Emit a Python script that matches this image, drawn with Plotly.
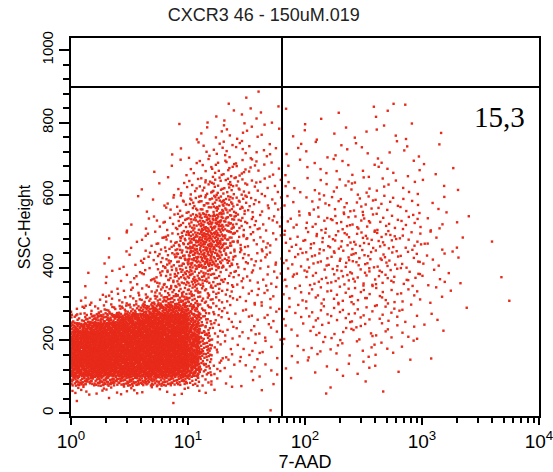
import plotly.graph_objects as go

# ---- data ----
title_text = "CXCR3 46 - 150uM.019"
x_title = "7-AAD"
y_title = "SSC-Height"
quadrant_label = "15,3"

# gate positions (7-AAD, SSC-Height)
gate_x = 63.6
gate_y = 898

# Event-count grids.  Columns: log10(7-AAD) bins, rows: SSC-Height bins
# (bottom row first).  Each value = number of events seen in that cell.

# block A: main live-cell population, log10 0..1.4 (0.1 steps) x SSC 0..350 (25 steps)
a_log_x = [round(0.1 * i, 1) for i in range(15)]
a_y = [25 * i for i in range(15)]
a_counts = [
    [0, 0, 0, 0, 0, 0, 0, 0, 0, 0, 0, 0, 0, 0],
    [1, 0, 0, 1, 0, 0, 0, 0, 1, 0, 0, 0, 0, 0],
    [4, 3, 3, 3, 3, 3, 2, 2, 2, 2, 2, 1, 1, 1],
    [22, 20, 22, 22, 22, 22, 22, 20, 18, 16, 10, 4, 2, 1],
    [50, 52, 55, 55, 55, 55, 55, 55, 52, 48, 32, 10, 3, 2],
    [52, 55, 58, 58, 58, 58, 58, 58, 56, 52, 38, 12, 3, 2],
    [52, 55, 58, 58, 58, 58, 58, 58, 58, 55, 40, 14, 4, 2],
    [50, 55, 58, 58, 58, 58, 58, 58, 58, 55, 40, 14, 4, 2],
    [45, 52, 55, 56, 56, 58, 58, 58, 58, 55, 38, 12, 4, 2],
    [30, 38, 44, 48, 50, 54, 55, 56, 56, 52, 32, 10, 4, 2],
    [10, 14, 20, 26, 32, 40, 46, 50, 50, 46, 26, 9, 4, 2],
    [3, 4, 6, 8, 10, 14, 20, 28, 32, 30, 18, 8, 4, 3],
    [1, 2, 2, 3, 4, 5, 8, 12, 16, 16, 12, 8, 5, 3],
    [0, 1, 1, 2, 2, 3, 4, 6, 9, 10, 10, 8, 6, 4],
]

# block B: upper population left of the gate, log10 0..1.8 (0.1 steps) x SSC 350..900 (50 steps)
b_log_x = [round(0.1 * i, 1) for i in range(19)]
b_y = [350 + 50 * i for i in range(12)]
b_counts = [
    [0, 1, 1, 2, 3, 5, 7, 10, 16, 22, 25, 22, 15, 9, 6, 5, 4, 4],
    [0, 0, 1, 1, 2, 3, 5, 8, 14, 22, 34, 40, 30, 16, 8, 6, 5, 4],
    [0, 0, 0, 1, 1, 2, 4, 6, 10, 18, 34, 46, 40, 22, 10, 6, 5, 4],
    [0, 0, 0, 0, 1, 1, 2, 4, 6, 12, 22, 34, 36, 24, 12, 7, 5, 4],
    [0, 0, 0, 0, 0, 1, 1, 2, 4, 7, 12, 18, 22, 20, 12, 7, 5, 4],
    [0, 0, 0, 0, 0, 0, 1, 1, 2, 4, 6, 10, 13, 13, 9, 6, 4, 3],
    [0, 0, 0, 0, 0, 0, 0, 1, 1, 2, 3, 5, 7, 8, 7, 5, 3, 3],
    [0, 0, 0, 0, 0, 0, 0, 0, 1, 1, 2, 3, 4, 5, 5, 3, 3, 2],
    [0, 0, 0, 0, 0, 0, 0, 0, 0, 1, 1, 2, 2, 3, 3, 3, 2, 2],
    [0, 0, 0, 0, 0, 0, 0, 0, 0, 0, 0, 1, 1, 2, 1, 2, 1, 1],
    [0, 0, 0, 0, 0, 0, 0, 0, 0, 0, 0, 0, 0, 1, 1, 0, 1, 0],
]

# block C: low SSC, log10 1.4..4.0 (0.2 steps) x SSC 0..350 (50 steps)
c_log_x = [round(1.4 + 0.2 * i, 1) for i in range(14)]
c_y = [50 * i for i in range(8)]
c_counts = [
    [0, 1, 0, 0, 0, 0, 0, 0, 0, 0, 0, 0, 0],
    [2, 2, 1, 1, 1, 1, 1, 0, 0, 0, 0, 0, 0],
    [5, 4, 2, 3, 3, 3, 2, 1, 0, 0, 0, 0, 0],
    [6, 5, 4, 5, 5, 5, 4, 2, 1, 0, 0, 0, 0],
    [7, 6, 5, 6, 7, 7, 6, 4, 2, 0, 0, 0, 0],
    [8, 7, 6, 8, 9, 9, 8, 5, 2, 1, 0, 0, 0],
    [8, 7, 6, 9, 10, 10, 9, 6, 3, 1, 0, 1, 0],
]

# block D: 7-AAD positive population, log10 1.8..4.0 (0.2 steps) x SSC 350..900 (50 steps)
d_log_x = [round(1.8 + 0.2 * i, 1) for i in range(12)]
d_y = [350 + 50 * i for i in range(12)]
d_counts = [
    [8, 11, 12, 13, 12, 9, 5, 2, 0, 1, 0],
    [8, 12, 13, 14, 13, 9, 5, 2, 0, 0, 0],
    [8, 12, 13, 14, 13, 9, 5, 2, 1, 0, 0],
    [7, 10, 11, 12, 10, 8, 4, 2, 0, 0, 0],
    [5, 8, 9, 9, 8, 6, 3, 1, 0, 0, 0],
    [4, 5, 6, 6, 5, 4, 2, 1, 0, 0, 0],
    [3, 4, 4, 4, 4, 3, 2, 1, 0, 0, 0],
    [3, 3, 3, 3, 3, 3, 1, 0, 0, 0, 0],
    [2, 2, 2, 2, 3, 2, 1, 0, 0, 0, 0],
    [1, 1, 1, 1, 2, 1, 0, 0, 0, 0, 0],
    [0, 0, 0, 0, 1, 0, 0, 0, 0, 0, 0],
]

blocks = [
    (a_log_x, a_y, a_counts),
    (b_log_x, b_y, b_counts),
    (c_log_x, c_y, c_counts),
    (d_log_x, d_y, d_counts),
]

x_tick_vals = [1, 10, 100, 1000, 10000]
x_tick_text = ["10<sup>0</sup>", "10<sup>1</sup>", "10<sup>2</sup>", "10<sup>3</sup>", "10<sup>4</sup>"]
x_minor_vals = [m * 10 ** d for d in range(4) for m in range(2, 10)]
y_tick_vals = [0, 200, 400, 600, 800, 1000]


# ---- spread each cell's events evenly over the cell (deterministic low-discrepancy fill) ----
def radical_inverse(i, b):
    f, r = 1.0, 0.0
    while i > 0:
        f /= b
        r += f * (i % b)
        i //= b
    return r


xs, ys = [], []
k = 1
for lx, ye, cnt in blocks:
    for r, row in enumerate(cnt):
        for c, n in enumerate(row):
            for _ in range(n):
                u = lx[c] + (lx[c + 1] - lx[c]) * radical_inverse(k, 2)
                v = ye[r] + (ye[r + 1] - ye[r]) * radical_inverse(k, 3)
                xs.append(10 ** u)
                ys.append(v)
                k += 1

red = "rgb(231,42,26)"
fig = go.Figure()
fig.add_trace(go.Scatter(
    x=xs, y=ys, mode="markers",
    marker=dict(color=red, size=2.4, symbol="square", line=dict(width=0)),
    hoverinfo="skip", showlegend=False,
))

fig.add_shape(type="line", xref="x", yref="paper", x0=gate_x, x1=gate_x, y0=0, y1=1,
              line=dict(color="black", width=2))
fig.add_shape(type="line", xref="paper", yref="y", x0=0, x1=1, y0=gate_y, y1=gate_y,
              line=dict(color="black", width=2))

fig.add_annotation(text=quadrant_label, xref="paper", yref="paper", x=0.974, y=0.791,
                   xanchor="right", yanchor="middle", showarrow=False,
                   font=dict(family="Liberation Serif", size=29, color="black"))

font_main = "Liberation Sans, Arial, sans-serif"
fig.update_layout(
    width=553, height=472,
    margin=dict(l=71, r=14, t=38, b=56, autoexpand=False),
    paper_bgcolor="white", plot_bgcolor="white",
    font=dict(family=font_main, color="black"),
    title=dict(text=title_text, x=0.412, xref="paper", xanchor="center",
               y=1 - 15 / 472, yref="container", yanchor="middle",
               font=dict(size=18, color="#222")),
    xaxis=dict(
        type="log", range=[0, 4], showgrid=False, zeroline=False, automargin=False,
        showline=True, linecolor="black", linewidth=2, mirror=True,
        ticks="outside", ticklen=7, tickwidth=1.5, tickcolor="black",
        tickvals=x_tick_vals, ticktext=x_tick_text, tickfont=dict(size=19),
        ticklabeloverflow="allow",
        minor=dict(tickvals=x_minor_vals, ticks="outside", ticklen=5, tickwidth=1.5, tickcolor="black"),
        title=dict(text=x_title, font=dict(size=18), standoff=4),
    ),
    yaxis=dict(
        range=[-8, 1033], showgrid=False, zeroline=False, automargin=False,
        showline=True, linecolor="black", linewidth=2, mirror=True,
        ticks="outside", ticklen=10, tickwidth=1.5, tickcolor="black",
        tickvals=y_tick_vals, tickangle=-90, tickfont=dict(size=15),
        minor=dict(dtick=40, tick0=0, ticks="outside", ticklen=6, tickwidth=1.5, tickcolor="black"),
        title=dict(text=y_title, font=dict(size=16), standoff=4),
    ),
)

fig.write_html("out.html", config={"displayModeBar": False})
